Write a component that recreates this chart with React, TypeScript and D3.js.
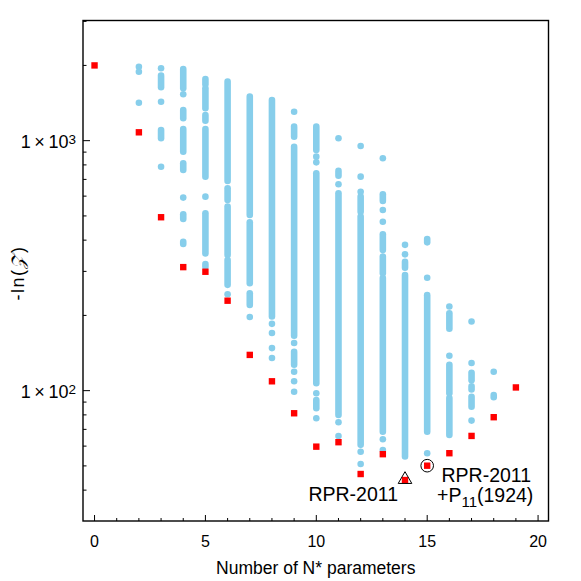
import * as d3 from 'd3'
import React, { useEffect, useRef } from 'react'

// best -ln(Z) for each number of N* parameters (red squares)
const bestN = [0, 2, 3, 4, 5, 6, 7, 8, 9, 10, 11, 12, 13, 14, 15, 16, 17, 18, 19]
const bestLnZ = [2000, 1080, 494, 312, 299, 229, 139, 109, 81.2, 59.7, 62.2, 46.4, 55.7, 43.9, 50.1, 56.2, 65.9, 78.3, 103]

// isolated fits [n, -ln(Z)]
const fitPoints = [
  [2, 1977], [2, 1888], [2, 1419],
  [3, 1948], [3, 1432], [3, 787],
  [4, 1533], [4, 592],
  [5, 597],
  [6, 243],
  [7, 197],
  [8, 185], [8, 170], [8, 148], [8, 135],
  [9, 1306], [9, 155], [9, 119], [9, 109], [9, 99],
  [10, 863], [10, 819], [10, 97.6], [10, 77.6],
  [11, 1022], [11, 669], [11, 74.7], [11, 65.9],
  [12, 952], [12, 718], [12, 625], [12, 57.0], [12, 50.9],
  [13, 850], [13, 528], [13, 474], [13, 63.9], [13, 57.9],
  [14, 383], [14, 351],
  [15, 283], [15, 56.2],
  [16, 217], [16, 138],
  [17, 189], [17, 129], [17, 75.9],
  [18, 119]
]

// runs of fits so dense that the dots merge [n, top, bottom]
const fitBands = [
  [3, 1820, 1635], [3, 1104, 1022],
  [4, 1936, 1620], [4, 1327, 1229], [4, 1114, 904], [4, 812, 764], [4, 508, 486], [4, 394, 386],
  [5, 1766, 1681], [5, 1620, 1348], [5, 1267, 1202], [5, 1114, 718], [5, 512, 354], [5, 321, 313],
  [6, 1722, 690], [6, 645, 579], [6, 545, 349], [6, 333, 265],
  [7, 1500, 504], [7, 472, 269], [7, 245, 220],
  [8, 1455, 198],
  [9, 1138, 1037], [9, 946, 166], [9, 143, 127],
  [10, 1138, 918], [10, 741, 107], [10, 91.8, 85.1],
  [11, 757, 724], [11, 616, 80],
  [12, 597, 520], [12, 497, 60.7],
  [13, 610, 574], [13, 422, 365], [13, 344, 295], [13, 282, 68.5],
  [14, 328, 310], [14, 290, 54.5],
  [15, 404, 392], [15, 241, 68.5],
  [16, 204, 177], [16, 127, 97.6], [16, 93.5, 66.5],
  [17, 118, 110], [17, 104, 101], [17, 94.6, 86.3],
  [18, 96.1, 94.1]
]

const xMajor = [0, 5, 10, 15, 20]
const yMajor = [100, 1000]
const yMajorExp = ['2', '3']

export default function App() {
  const ref = useRef(null)

  useEffect(() => {
    const svg = d3.select(ref.current)
    svg.selectAll('*').remove()

    const left = 83, right = 548.5, top = 20.5, bottom = 521
    const font = 'Liberation Sans, Arial, Helvetica, sans-serif'
    const blue = '#87ceeb'
    const r = 3.3

    const x = d3.scaleLinear().domain([-0.52, 20.47]).range([left, right])
    const y = d3.scaleLog().domain([30.1, 3025]).range([bottom, top])

    // dense bands
    svg.append('g')
      .selectAll('line')
      .data(fitBands)
      .join('line')
      .attr('x1', d => x(d[0]))
      .attr('x2', d => x(d[0]))
      .attr('y1', d => y(d[1]))
      .attr('y2', d => y(d[2]))
      .attr('stroke', blue)
      .attr('stroke-width', r * 2)
      .attr('stroke-linecap', 'round')

    // single fits
    svg.append('g')
      .selectAll('circle')
      .data(fitPoints)
      .join('circle')
      .attr('cx', d => x(d[0]))
      .attr('cy', d => y(d[1]))
      .attr('r', r)
      .attr('fill', blue)

    // best fits
    const s = 6.4
    svg.append('g')
      .selectAll('rect')
      .data(bestN)
      .join('rect')
      .attr('x', d => x(d) - s / 2)
      .attr('y', (d, i) => y(bestLnZ[i]) - s / 2)
      .attr('width', s)
      .attr('height', s)
      .attr('fill', '#ff0000')

    // markers for RPR-2011 and RPR-2011 + P11(1924)
    const i14 = bestN.indexOf(14)
    const i15 = bestN.indexOf(15)
    svg.append('path')
      .attr('d', d3.symbol(d3.symbolTriangle, 80)())
      .attr('transform', `translate(${x(14)},${y(bestLnZ[i14]) - 0.5})`)
      .attr('fill', 'none')
      .attr('stroke', 'black')
      .attr('stroke-width', 1)
    svg.append('circle')
      .attr('cx', x(15))
      .attr('cy', y(bestLnZ[i15]))
      .attr('r', 6.3)
      .attr('fill', 'none')
      .attr('stroke', 'black')
      .attr('stroke-width', 1)

    // frame
    svg.append('rect')
      .attr('x', left)
      .attr('y', top)
      .attr('width', right - left)
      .attr('height', bottom - top)
      .attr('fill', 'none')
      .attr('stroke', 'black')
      .attr('stroke-width', 1.4)

    // x ticks
    const xMinor = d3.range(0, 21)
    svg.append('g')
      .selectAll('line')
      .data(xMinor)
      .join('line')
      .attr('x1', d => x(d))
      .attr('x2', d => x(d))
      .attr('y1', bottom)
      .attr('y2', d => bottom - (xMajor.includes(d) ? 6 : 3))
      .attr('stroke', 'black')
      .attr('stroke-width', 1)

    svg.append('g')
      .selectAll('text')
      .data(xMajor)
      .join('text')
      .attr('x', d => x(d))
      .attr('y', 547)
      .attr('text-anchor', 'middle')
      .attr('font-family', font)
      .attr('font-size', 16)
      .text(d => d)

    // y ticks
    const yMinor = [40, 50, 60, 70, 80, 90, 200, 300, 400, 500, 600, 700, 800, 900, 2000, 3000]
    svg.append('g')
      .selectAll('line')
      .data(yMinor.concat(yMajor))
      .join('line')
      .attr('x1', left)
      .attr('x2', d => left + (yMajor.includes(d) ? 7 : 3.5))
      .attr('y1', d => y(d))
      .attr('y2', d => y(d))
      .attr('stroke', 'black')
      .attr('stroke-width', 1)

    const yl = svg.append('g')
      .selectAll('text')
      .data(yMajor)
      .join('text')
      .attr('x', 76)
      .attr('y', d => y(d) + 7.6)
      .attr('text-anchor', 'end')
      .attr('font-family', font)
      .attr('font-size', 18)
    yl.append('tspan').text('1\u2009\u00d7\u200910')
    yl.append('tspan')
      .attr('dy', -4.5)
      .attr('font-size', 13.5)
      .text((d, i) => yMajorExp[i])

    // axis titles
    svg.append('text')
      .attr('x', (left + right) / 2)
      .attr('y', 573.5)
      .attr('text-anchor', 'middle')
      .attr('font-family', font)
      .attr('font-size', 17.5)
      .text('Number of N* parameters')

    const yt = svg.append('text')
      .attr('transform', `translate(23.5,273) rotate(-90)`)
      .attr('text-anchor', 'middle')
      .attr('font-family', font)
      .attr('font-size', 18)
      .attr('letter-spacing', 1.5)
    yt.append('tspan').text('-ln(')
    yt.append('tspan').attr('font-style', 'italic').text('\u{1D4B5}')
    yt.append('tspan').text(')')

    // annotations
    svg.append('text')
      .attr('x', 398)
      .attr('y', 501)
      .attr('text-anchor', 'end')
      .attr('font-family', font)
      .attr('font-size', 19.5)
      .text('RPR-2011')

    svg.append('text')
      .attr('x', 441.5)
      .attr('y', 481.5)
      .attr('font-family', font)
      .attr('font-size', 19.5)
      .text('RPR-2011')

    const t2 = svg.append('text')
      .attr('x', 437)
      .attr('y', 502)
      .attr('font-family', font)
      .attr('font-size', 19.5)
    t2.append('tspan').text('+P')
    t2.append('tspan').attr('dy', 5).attr('font-size', 15).text('11')
    t2.append('tspan').attr('dy', -5).text('(1924)')
  }, [])

  return (
    <svg
      ref={ref}
      width={581}
      height={581}
      style={{ position: 'absolute', left: 0, top: 0, background: 'white' }}
    />
  )
}
